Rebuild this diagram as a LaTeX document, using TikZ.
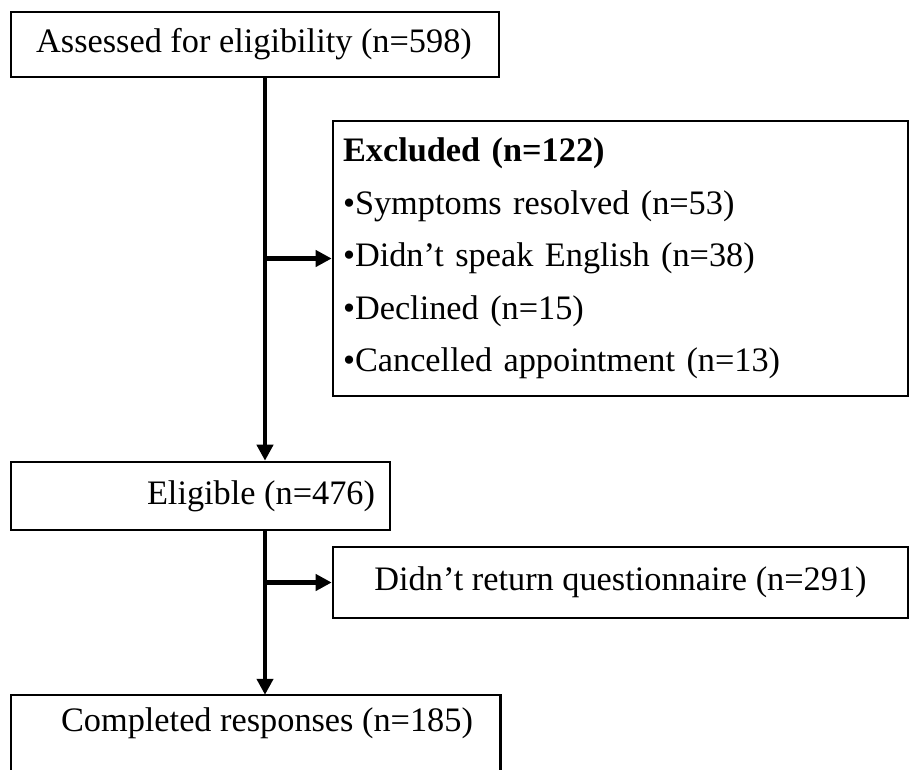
\documentclass[tikz,border=0pt]{standalone}
\usepackage{fontspec}
\setmainfont{Liberation Serif}
\usetikzlibrary{arrows.meta}
\begin{document}
\begin{tikzpicture}[x=1pt,y=-1pt,
  txt/.style={font=\fontsize{34.3}{52.5}\selectfont,inner sep=0pt},
  box/.style={draw=black,line width=2.6pt,rectangle,inner sep=0pt},
  flow/.style={line width=4.6pt,-{Triangle[length=16pt,width=16pt]}}]
\useasboundingbox (0,0) rectangle (910,769);
\clip (0,0) rectangle (910,769);

% stages of the flow
\node[box,minimum width=488,minimum height=65] (assess) at (255,44.5) {};
\node[txt] at (254,44.5) {Assessed for eligibility (n=598)};
\node[box,txt,minimum width=575,minimum height=275,text width=555,align=left]
  (excl) at (620.5,258.5)
  {\textbf{Excluded (n=122)}\\
   •Symptoms resolved (n=53)\\
   •Didn’t speak English (n=38)\\
   •Declined (n=15)\\
   •Cancelled appointment (n=13)};
\node[box,minimum width=379,minimum height=68] (elig) at (200.5,496) {};
\node[txt] at (261,496) {Eligible (n=476)};
\node[box,txt,minimum width=575,minimum height=71] (noret) at (620.5,582.5)
  {Didn’t return questionnaire (n=291)};
\node[txt,minimum width=489,minimum height=56] (done) at (255.5,723) {};
\node[txt] at (267,723) {Completed responses (n=185)};
\draw[line width=2.6pt] (done.west |- 0,800) -- (done.north west)
  -- (done.north east) -- (done.east |- 0,800);

% trunk line and side branches
\coordinate (trunk) at (265,0);
\draw[flow] (trunk |- assess.south) -- (trunk |- elig.north);
\draw[flow] (trunk |- excl.west) -- (excl.west);
\draw[flow] (trunk |- elig.south) -- (trunk |- done.north);
\draw[flow] (trunk |- noret.west) -- (noret.west);
\end{tikzpicture}
\end{document}
